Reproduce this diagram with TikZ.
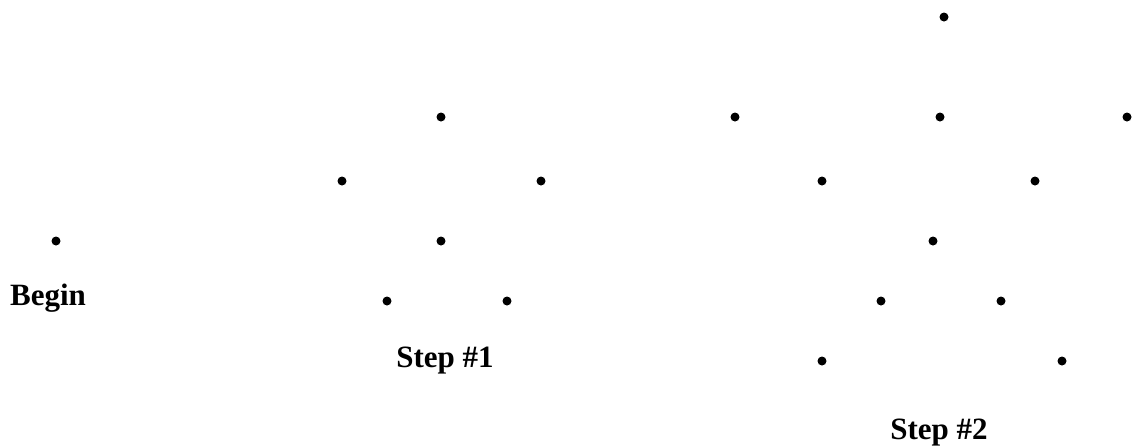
\documentclass[tikz,border=0pt]{standalone}
\usepackage{fontspec}
\setmainfont{Liberation Serif}
\usepackage{tikz}
\usetikzlibrary{positioning}
\tikzset{
    dot/.style={circle, fill=black, inner sep=0pt, minimum size=4.5pt},
    lbl/.style={anchor=base, font=\fontsize{15.5}{18}\selectfont\bfseries}
}

\begin{document}
\begin{tikzpicture}[x=0.5pt, y=-0.5pt]
        \useasboundingbox (0,0) rectangle (1132,447);
        % begin
        \node[dot] (b0) at (56,241) {};
        \node[lbl] (lb0) at (48,305) {Begin};
        % step 1
        \foreach \x/\y/\n in {441/117/a, 342/181/b, 541/181/c, 441/241/d, 387/301/e, 507/301/f}
            \node[dot] (s1\n) at (\x,\y) {};
        \node[lbl] (ls1) at (445,367) {Step \#1};
        % step 2
        \foreach \x/\y/\n in {944/17/a, 735/117/b, 940/117/c, 1127/117/d, 822/181/e, 1035/181/f,
                              933/241/g, 881/301/h, 1001/301/i, 822/361/j, 1062/361/k}
            \node[dot] (s2\n) at (\x,\y) {};
        \node[lbl] (ls2) at (939,439) {Step \#2};
    \end{tikzpicture}
\end{document}
